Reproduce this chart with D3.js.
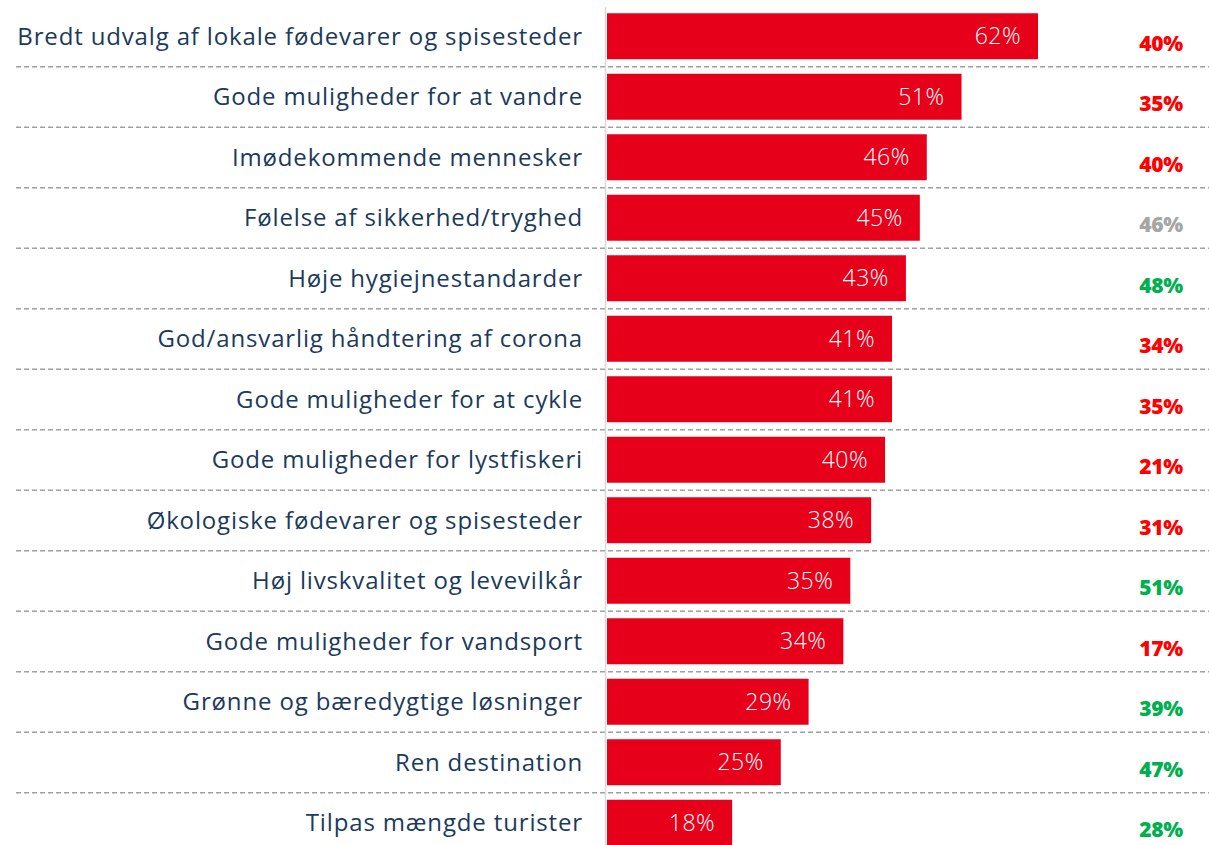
<!DOCTYPE html>
<html>
<head>
<meta charset="utf-8">
<script src="https://cdn.jsdelivr.net/npm/d3@7"></script>
<style>
  body { margin: 0; background: #fff; }
  svg { display: block; }
</style>
</head>
<body>
<svg id="chart" width="1209" height="845"></svg>
<script>
// categories, shares and the comparison column
const categories = [
  "Bredt udvalg af lokale fødevarer og spisesteder",
  "Gode muligheder for at vandre",
  "Imødekommende mennesker",
  "Følelse af sikkerhed/tryghed",
  "Høje hygiejnestandarder",
  "God/ansvarlig håndtering af corona",
  "Gode muligheder for at cykle",
  "Gode muligheder for lystfiskeri",
  "Økologiske fødevarer og spisesteder",
  "Høj livskvalitet og levevilkår",
  "Gode muligheder for vandsport",
  "Grønne og bæredygtige løsninger",
  "Ren destination",
  "Tilpas mængde turister"
];
const values = [62, 51, 46, 45, 43, 41, 41, 40, 38, 35, 34, 29, 25, 18];
const compare = [40, 35, 40, 46, 48, 34, 35, 21, 31, 51, 17, 39, 47, 28];
// "lower", "same" or "higher" than the bar value
const compareTrend = ["lower", "lower", "lower", "same", "higher", "lower", "lower",
  "lower", "lower", "higher", "lower", "higher", "higher", "higher"];

const trendColor = { lower: "#ff0000", same: "#a6a6a6", higher: "#00b050" };

const svg = d3.select("#chart");
const x0 = 607;

const x = d3.scaleLinear().domain([0, 62]).range([x0, 1038]);
const y = d3.scaleBand()
  .domain(categories)
  .range([6, 853])
  .paddingInner(0.24)
  .paddingOuter(0.12);

// dashed separators
svg.append("g")
  .selectAll("line")
  .data(categories.slice(1))
  .join("line")
  .attr("x1", 16)
  .attr("x2", 1209)
  .attr("y1", d => y(d) - 7)
  .attr("y2", d => y(d) - 7)
  .attr("stroke", "#a0a0a0")
  .attr("stroke-width", 1.4)
  .attr("stroke-dasharray", "5,3");

// vertical axis line
svg.append("line")
  .attr("x1", x0 - 1.5).attr("x2", x0 - 1.5)
  .attr("y1", 7).attr("y2", 845)
  .attr("stroke", "#d9d9d9")
  .attr("stroke-width", 1.5);

// bars
svg.append("g")
  .selectAll("rect")
  .data(values)
  .join("rect")
  .attr("x", x0)
  .attr("y", (d, i) => y(categories[i]))
  .attr("width", d => x(d) - x0)
  .attr("height", y.bandwidth())
  .attr("fill", "#e60019");

// value labels inside bars
svg.append("g")
  .selectAll("text")
  .data(values)
  .join("text")
  .attr("x", d => x(d) - 17)
  .attr("y", (d, i) => y(categories[i]) + y.bandwidth() / 2)
  .attr("dy", "0.35em")
  .attr("text-anchor", "end")
  .attr("fill", "#fff")
  .style("font-family", "'Open Sans', sans-serif")
  .style("font-weight", 300)
  .style("font-size", "23px")
  .style("letter-spacing", "0.5px")
  .text(d => d + "%");

// category labels
svg.append("g")
  .selectAll("text")
  .data(categories)
  .join("text")
  .attr("x", 583)
  .attr("y", d => y(d) + y.bandwidth() / 2)
  .attr("dy", "0.35em")
  .attr("text-anchor", "end")
  .attr("fill", "#1b3a5c")
  .style("font-family", "'Open Sans', sans-serif")
  .style("font-size", "24px")
  .style("letter-spacing", "0.85px")
  .text(d => d);

// comparison column
svg.append("g")
  .selectAll("text")
  .data(compare)
  .join("text")
  .attr("x", 1161)
  .attr("y", (d, i) => y(categories[i]) + y.bandwidth() / 2 + 7)
  .attr("dy", "0.35em")
  .attr("text-anchor", "middle")
  .attr("fill", (d, i) => trendColor[compareTrend[i]])
  .style("font-family", "'Open Sans', sans-serif")
  .style("font-weight", 800)
  .style("font-size", "21px")
  .style("letter-spacing", "-0.3px")
  .text(d => d + "%");
</script>
</body>
</html>
